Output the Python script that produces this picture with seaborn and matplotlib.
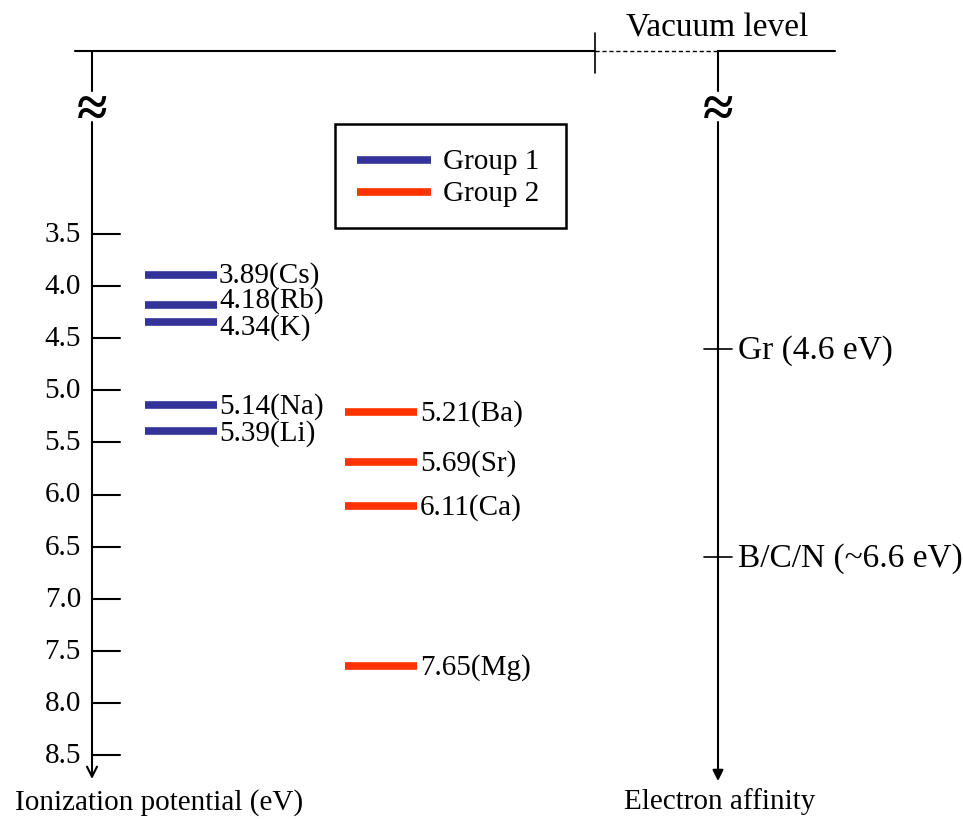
import matplotlib
matplotlib.use("Agg")
import matplotlib.pyplot as plt
import seaborn as sns
import pandas as pd
import numpy as np

# ---- data ----
g1_elements = ["Cs", "Rb", "K", "Na", "Li"]
g1_values = [3.89, 4.18, 4.34, 5.14, 5.39]
g2_elements = ["Ba", "Sr", "Ca", "Mg"]
g2_values = [5.21, 5.69, 6.11, 7.65]
tick_values = [3.5, 4.0, 4.5, 5.0, 5.5, 6.0, 6.5, 7.0, 7.5, 8.0, 8.5]
ea_labels = ["Gr (4.6 eV)", "B/C/N (~6.6 eV)"]
ea_values = [4.6, 6.6]

sns.set_theme(style="white")
plt.rcParams["font.family"] = ["Liberation Serif", "DejaVu Serif"]
plt.rcParams["text.color"] = "black"

C1 = "#333399"
C2 = "#FF3300"

W, H = 963, 819
fig = plt.figure(figsize=(W / 100, H / 100), dpi=100)
ax = fig.add_axes([0, 0, 1, 1])
ax.set_axis_off()

# y scale: eV, pixel mapping y_px = 234 + (eV-3.5)*104.2
ppe = 104.2
def ev(px):
    return 3.5 + (px - 234) / ppe

# level segments via seaborn
rows = []
for el, v in zip(g1_elements, g1_values):
    rows.append(dict(x=145, E=v, el=el, group="Group 1"))
    rows.append(dict(x=217, E=v, el=el, group="Group 1"))
for el, v in zip(g2_elements, g2_values):
    rows.append(dict(x=345, E=v, el=el, group="Group 2"))
    rows.append(dict(x=417, E=v, el=el, group="Group 2"))
df = pd.DataFrame(rows)
sns.lineplot(data=df, x="x", y="E", hue="group", units="el", estimator=None,
             palette={"Group 1": C1, "Group 2": C2}, linewidth=5.5,
             legend=False, ax=ax, solid_capstyle="butt")
ax.set_xlim(0, W)
ax.set_ylim(ev(H), ev(0))
ax.set_axis_off()

fs = 21
up = -2 / ppe  # small upward text shift
# small pixel nudges so crowded labels stay legible (as in the reference)
g1_nudge_px = [0, -5, 5, 0, 1]
for el, v, d in zip(g1_elements, g1_values, g1_nudge_px):
    ax.text(219, v + d / ppe + up, f"{v:.2f}({el})", fontsize=fs,
            va="center_baseline", ha="left")
for el, v in zip(g2_elements, g2_values):
    ax.text(420, v + up, f"{v:.2f}({el})", fontsize=fs, va="center_baseline", ha="left")

lw = 1.5
# left axis
xl = 92
ytop = ev(51)
ax.plot([xl, xl], [ytop, ev(91)], color="black", lw=lw)
ax.annotate("", xy=(xl, ev(779)), xytext=(xl, ev(122)),
            arrowprops=dict(arrowstyle="->", color="black", lw=lw,
                            mutation_scale=18, shrinkA=0, shrinkB=0))
ax.text(xl, ev(106), "≈", fontsize=40, ha="center", va="center_baseline",
        fontweight="bold")
for t in tick_values:
    ax.plot([xl, 120], [t, t], color="black", lw=lw)
    ax.text(81, t + up, f"{t:.1f}", fontsize=fs, ha="right", va="center_baseline")

# right axis
xr = 718
ax.plot([xr, xr], [ytop, ev(91)], color="black", lw=lw)
ax.annotate("", xy=(xr, ev(781)), xytext=(xr, ev(122)),
            arrowprops=dict(arrowstyle="-|>", color="black", lw=lw,
                            mutation_scale=16, shrinkA=0, shrinkB=0))
ax.text(xr, ev(106), "≈", fontsize=40, ha="center", va="center_baseline",
        fontweight="bold")
for lab, v in zip(ea_labels, ea_values):
    ax.plot([704, 732], [v, v], color="black", lw=1.2)
    ax.text(738, v + up, lab, fontsize=24, ha="left", va="center_baseline")

# vacuum level
ax.plot([75, 595], [ytop, ytop], color="black", lw=lw)
ax.plot([595, 595], [ev(33), ev(73)], color="black", lw=1.2)
ax.plot([595, xr], [ytop, ytop], color="black", lw=1.0, ls=(0, (3, 2)))
ax.plot([xr, 835], [ytop, ytop], color="black", lw=lw)
ax.text(717, ev(25), "Vacuum level", fontsize=24, ha="center", va="center_baseline")

# legend box
ax.add_patch(plt.Rectangle((335, ev(228)), 566 - 335, ev(124) - ev(228),
                           fill=False, ec="black", lw=1.8))
ax.plot([357, 431], [ev(160), ev(160)], color=C1, lw=5.5, solid_capstyle="butt")
ax.plot([357, 431], [ev(192), ev(192)], color=C2, lw=5.5, solid_capstyle="butt")
ax.text(443, ev(159), "Group 1", fontsize=21, ha="left", va="center_baseline")
ax.text(443, ev(191), "Group 2", fontsize=21, ha="left", va="center_baseline")

# bottom labels
ax.text(159, ev(799), "Ionization potential (eV)", fontsize=21, ha="center", va="center_baseline")
ax.text(720, ev(799), "Electron affinity", fontsize=21, ha="center", va="center_baseline")

fig.savefig("out.png", dpi=100, facecolor="white")
